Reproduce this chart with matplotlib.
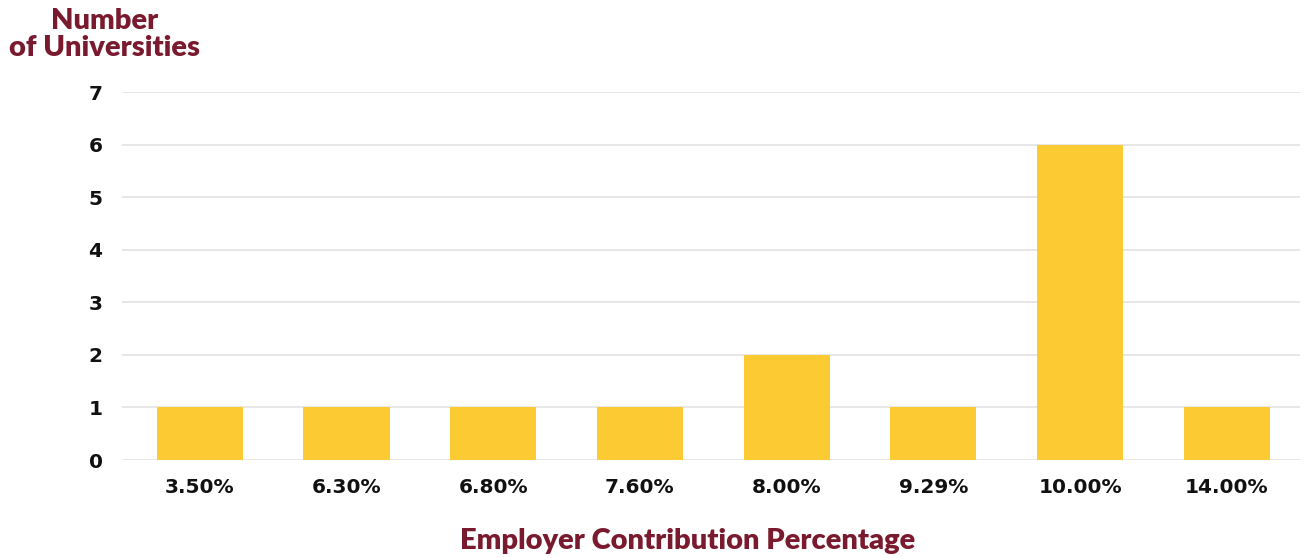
import matplotlib.pyplot as plt

# Colours
BAR = '#FCCB33'
MAROON = '#7A1A2E'
TEXT = '#111111'
GRID = '#E3E3E3'

# Data
rates = ['3.50%', '6.30%', '6.80%', '7.60%', '8.00%', '9.29%', '10.00%', '14.00%']
counts = [1, 1, 1, 1, 2, 1, 6, 1]

plt.rcParams['font.family'] = ['Lato', 'DejaVu Sans']

fig = plt.figure(figsize=(13.04, 5.58), dpi=100, facecolor='white')
ax = fig.add_axes([0.0936, 0.1756, 0.9034, 0.6594])

x = list(range(len(rates)))
ax.bar(x, counts, width=0.587, color=BAR, zorder=3)

ax.set_xlim(-0.53, 7.5)
ax.set_ylim(0, 7)
ax.set_yticks(range(0, 8))
ax.set_xticks(x)
ax.set_xticklabels(rates)

for s in ax.spines.values():
    s.set_visible(False)
ax.grid(True, axis='y', color=GRID, linewidth=1.2, zorder=0)
ax.tick_params(axis='both', length=0, labelsize=14.5, labelcolor=TEXT)
ax.tick_params(axis='y', pad=14)
ax.tick_params(axis='x', pad=13)
for lbl in ax.get_xticklabels() + ax.get_yticklabels():
    lbl.set_fontweight('bold')
    lbl.set_family('DejaVu Sans')

# Axis titles
fig.text(0.08, 0.985, 'Number\nof Universities', ha='center', va='top',
         fontsize=21, fontweight='heavy', color=MAROON, linespacing=1.02)
fig.text(0.527, 0.03, 'Employer Contribution Percentage', ha='center', va='center',
         fontsize=21, fontweight='heavy', color=MAROON)

plt.savefig('out.png', dpi=100, facecolor='white')
plt.close()
